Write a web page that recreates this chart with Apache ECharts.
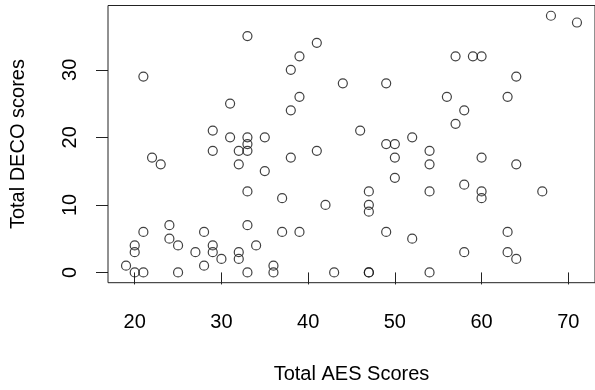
<!DOCTYPE html>
<html>
<head>
<meta charset="utf-8">
<script src="https://cdn.jsdelivr.net/npm/echarts@6/dist/echarts.min.js"></script>
<style>
html,body{margin:0;padding:0;background:#fff;}
#chart{width:595px;height:390px;}
</style>
</head>
<body>
<div id="chart"></div>
<script>
// Data
var aesScores  = [19,20,20,20,21,21,21,22,23,24,24,25,25,27,28,28,29,29,29,29,30,31,31,32,32,32,32,33,33,33,33,33,33,33,34,35,35,36,36,37,37,38,38,38,39,39,39,41,41,42,43,44,46,47,47,47,47,47,49,49,49,50,50,50,52,52,54,54,54,54,56,57,57,58,58,58,59,60,60,60,60,63,63,63,64,64,64,67,68,71];
var decoScores = [1,0,3,4,0,6,29,17,16,7,5,4,0,3,6,1,21,18,4,3,2,25,20,18,16,3,2,35,20,19,18,12,7,0,4,20,15,1,0,11,6,30,24,17,32,26,6,34,18,10,0,28,21,12,10,9,0,0,28,19,6,19,17,14,20,5,18,16,12,0,26,32,22,24,13,3,32,32,17,12,11,26,6,3,29,16,2,12,38,37];
var xTicks = [20,30,40,50,60,70];
var yTicks = [0,10,20,30];
var xTitle = 'Total AES Scores';
var yTitle = 'Total DECO scores';

var points = aesScores.map(function(x,i){return [x, decoScores[i]];});
var fontFam = '"Liberation Sans", Arial, Helvetica, sans-serif';

var chart = echarts.init(document.getElementById('chart'), null, {renderer:'canvas'});
chart.setOption({
  animation:false,
  backgroundColor:'#ffffff',
  grid:{left:108, top:5.5, right:-1.8, bottom:107.3, show:true, borderColor:'#222', borderWidth:1, backgroundColor:'transparent'},
  xAxis:{
    type:'value', min:16.92, max:73.08,
    name:xTitle, nameLocation:'middle', nameGap:82,
    nameTextStyle:{fontFamily:fontFam, fontSize:20, color:'#000'},
    axisLine:{show:false},
    axisTick:{show:true, length:12, inside:false, customValues:xTicks, lineStyle:{color:'#222', width:1}},
    axisLabel:{show:true, customValues:xTicks, margin:30, fontFamily:fontFam, fontSize:20, color:'#000'},
    splitLine:{show:false}
  },
  yAxis:{
    type:'value', min:-1.52, max:39.52,
    name:yTitle, nameLocation:'middle', nameGap:80, nameRotate:90,
    nameTextStyle:{fontFamily:fontFam, fontSize:20, color:'#000'},
    axisLine:{show:false},
    axisTick:{show:true, length:12, inside:false, customValues:yTicks, lineStyle:{color:'#222', width:1}},
    axisLabel:{show:true, customValues:yTicks, rotate:90, margin:28, fontFamily:fontFam, fontSize:20, color:'#000'},
    splitLine:{show:false}
  },
  series:[{
    type:'scatter',
    data:points,
    symbol:'circle',
    symbolSize:9,
    itemStyle:{color:'rgba(0,0,0,0)', borderColor:'#111', borderWidth:1.2},
    emphasis:{disabled:true}
  }]
});
</script>
</body>
</html>
